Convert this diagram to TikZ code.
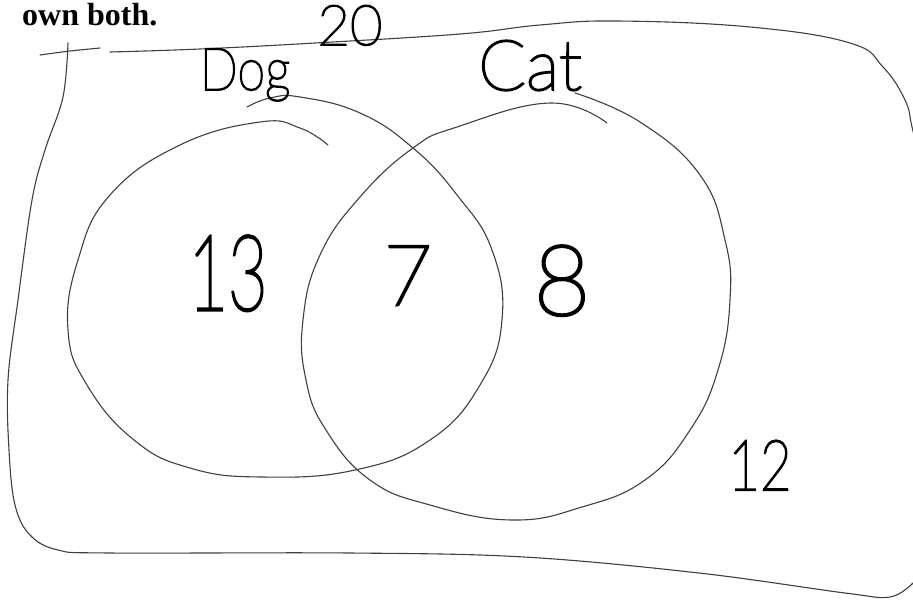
\documentclass[tikz,border=0pt]{standalone}
\usepackage{fontspec}
\setmainfont{Liberation Serif}
\newfontfamily\hand{Lato Thin}[FakeBold=3]
\begin{document}
\begin{tikzpicture}[x=1pt,y=-1pt,
  pen/.style={draw=black!75, line width=1.1pt, line cap=round, line join=round},
  handtxt/.style={font=\hand, inner sep=0pt, anchor=base, text=black}]
\useasboundingbox (0,0) rectangle (913,600);
\clip (0,0) rectangle (913,600);
\fill[white] (0,0) rectangle (913,600);

% printed text at top
\node[font=\bfseries\fontsize{32}{32}\selectfont, inner sep=0pt, anchor=base west] (own) at (22,25) {own both.};

% outer hand-drawn box
\draw[pen] plot[smooth] coordinates {(40,55) (70,51) (100,48)};
\draw[pen] plot[smooth, tension=0.7] coordinates {(110,52) (200,49) (315,43) (460,34) (540,25) (617,21) (750,27) (850,43) (883,67) (905,100) (912,127) (920,160)};
\draw[pen] plot[smooth, tension=0.6] coordinates {(68,43) (63,97) (45,150) (32,200) (18,300) (8,380) (9,450) (15,505) (30,535) (58,550) (110,553) (350,553) (524,557) (699,573) (845,593) (890,597) (913,583)};

% Dog circle
\draw[pen] plot[smooth, tension=0.75] coordinates {(328,145) (300,128) (260,122) (180,145) (110,195) (78,260) (68,330) (87,385) (134,440) (190,468) (262,477) (355,470) (430,440) (480,385) (502,320) (492,250) (457,195) (413,148) (360,113) (300,97) (270,98) (247,107)};

% Cat circle
\draw[pen] plot[smooth, tension=0.75] coordinates {(575,93) (640,122) (700,175) (725,240) (730,300) (718,370) (690,430) (645,480) (582,507) (512,520) (430,505) (370,480) (326,430) (306,380) (303,320) (320,255) (360,197) (413,148) (457,127) (550,103) (607,123)};

% handwritten texts
\node[handtxt, font=\hand\fontsize{56}{56}\selectfont] (twenty) at (350,45) {20};
\node[handtxt, font=\hand\fontsize{59}{59}\selectfont, xscale=0.85] (dog) at (245,90) {Dog};
\node[handtxt, font=\hand\fontsize{70}{70}\selectfont] (cat) at (530,90) {Cat};
\node[handtxt, font=\hand\fontsize{105}{105}\selectfont, xscale=0.65] (n13) at (228,310) {13};
\node[handtxt, font=\hand\fontsize{84}{84}\selectfont] (n7) at (408,305) {7};
\node[handtxt, font=\hand\fontsize{98}{98}\selectfont] (n8) at (562,315) {8};
\node[handtxt, font=\hand\fontsize{70}{70}\selectfont, xscale=0.78] (n12) at (760,490) {12};
\end{tikzpicture}
\end{document}
